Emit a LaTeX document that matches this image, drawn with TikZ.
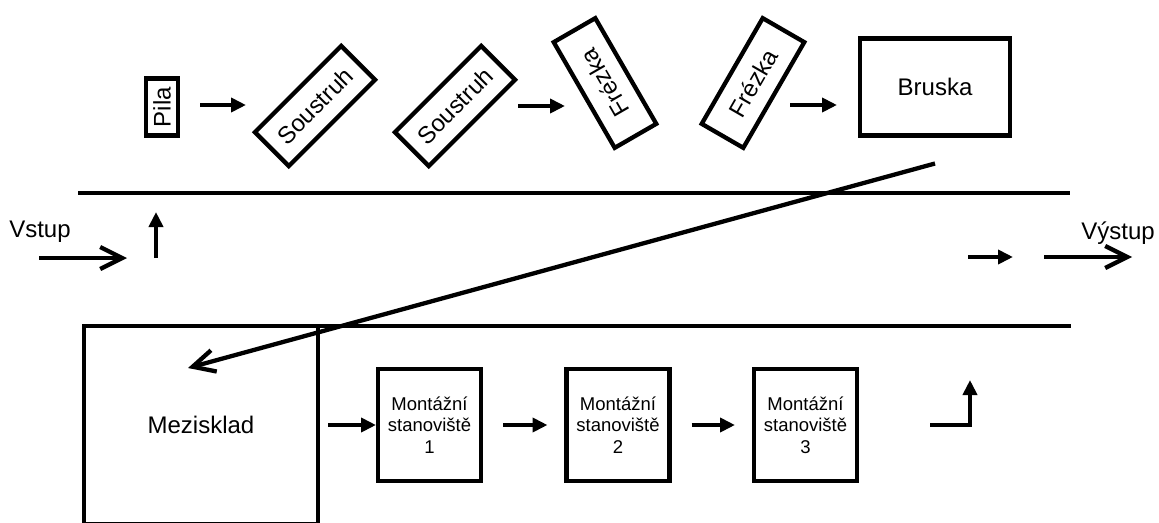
\documentclass[tikz,border=0pt]{standalone}
\usepackage{fontspec}
\setmainfont{Liberation Sans}
\usetikzlibrary{arrows.meta}
\usetikzlibrary{positioning}

\begin{document}
\begin{tikzpicture}[x=1pt, y=-1pt,
    machine/.style={draw, line width=4.3pt, minimum width=122pt, minimum height=48pt, inner sep=0pt, outer sep=0pt, font=\fontsize{24}{28}\selectfont},
    station/.style={draw, line width=4.3pt, minimum width=103pt, minimum height=112pt, inner sep=0pt, outer sep=0pt, align=center, font=\fontsize{18.5}{21.5}\selectfont},
    belt/.style={line width=4.3pt},
    flow/.style={line width=4.3pt, -{Triangle[length=15pt,width=14pt]}},
    inout/.style={line width=4.3pt, -{Straight Barb[length=22pt,width=22pt]}},
    txt/.style={font=\fontsize{24}{28}\selectfont}]

    \useasboundingbox (0,0) rectangle (1159,522);
    \clip (0,0) rectangle (1159,522);

    % machines along the upper line
    \node[machine, rotate=90, minimum width=57pt, minimum height=32pt] (pila) at (162,107) {Pila};
    \node[machine, rotate=45] (sous1) at (315,106) {Soustruh};
    \node[machine, rotate=45] (sous2) at (455,106) {Soustruh};
    \node[machine, rotate=120] (frez1) at (605,83) {Frézka};
    \node[machine, rotate=60] (frez2) at (753,83) {Frézka};
    \node[machine, minimum width=150pt, minimum height=97pt] (bruska) at (935,87) {Bruska};

    \draw[flow] ([xshift=38pt,yshift=2pt]pila.center) -- ++(46,0);
    \draw[flow] ([xshift=63pt]sous2.center) -- ++(47,0);
    \draw[flow] ([xshift=-70pt,yshift=-18pt]bruska.west) -- ([xshift=-23pt,yshift=-18pt]bruska.west);

    % transport lines
    \coordinate (top1) at (78,193);
    \coordinate (top2) at (1070,193);
    \draw[belt] (top1) -- (top2);

    % lower part
    \node[machine, minimum width=234pt, minimum height=198pt] (mez) at (201,425) {Mezisklad};
    \coordinate (low2) at (1071,326);
    \draw[belt] (mez.north east) -- (low2);

    \node[station] (m1) at (429.5,425) {Montážní\\stanoviště\\1};
    \node[station] (m2) at (618,425) {Montážní\\stanoviště\\2};
    \node[station] (m3) at (805.5,425) {Montážní\\stanoviště\\3};

    \draw[flow, shorten <=10pt, shorten >=2pt] (mez.east) -- (m1.west);
    \draw[flow, shorten <=22pt, shorten >=19pt] (m1.east) -- (m2.west);
    \draw[flow, shorten <=22pt, shorten >=19pt] (m2.east) -- (m3.west);
    \draw[flow] ([xshift=73pt]m3.east) -| ++(40,-45);

    % from Bruska back to Mezisklad
    \draw[inout] ([yshift=-28pt]bruska.south) -- ([xshift=-13pt,yshift=-42pt]mez.north);

    % input and output
    \node[txt] (vstup) at (40,232) {Vstup};
    \coordinate (in1) at (39,258);
    \coordinate (in2) at (127,258);
    \draw[inout] (in1) -- (in2);
    \coordinate (up1) at (156,258);
    \coordinate (up2) at (156,212);
    \draw[flow] (up1) -- (up2);

    \node[txt] (vystup) at (1118,233) {Výstup};
    \coordinate (out1) at (968,257);
    \coordinate (out2) at (1013,257);
    \draw[flow] (out1) -- (out2);
    \coordinate (out3) at (1044,257);
    \coordinate (out4) at (1132,257);
    \draw[inout] (out3) -- (out4);

\end{tikzpicture}
\end{document}
